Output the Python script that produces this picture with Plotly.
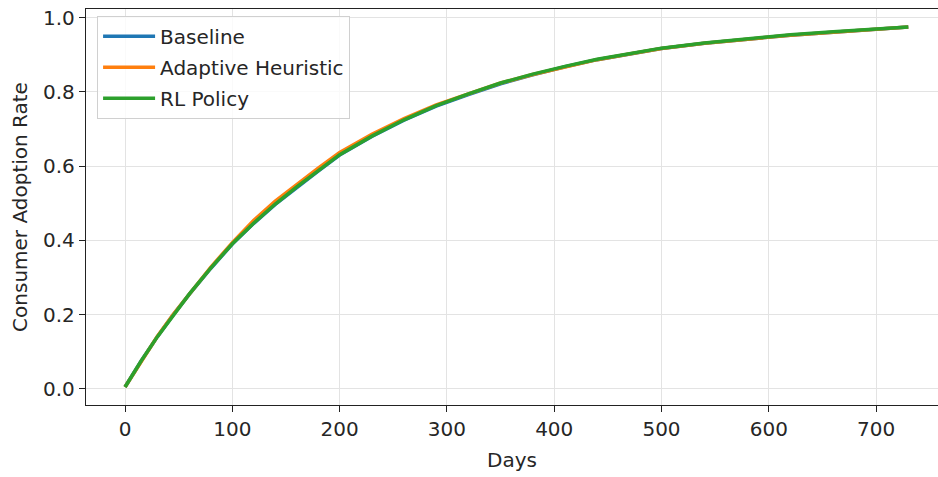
import plotly.graph_objects as go

days = [0, 15, 30, 45, 60, 80, 100, 120, 140, 160, 180, 200, 230, 260, 290,
        320, 350, 380, 410, 440, 470, 500, 540, 580, 620, 660, 700, 730]
baseline = [0.005, 0.075, 0.140, 0.200, 0.255, 0.325, 0.390, 0.446, 0.497, 0.543,
            0.587, 0.630, 0.680, 0.724, 0.762, 0.793, 0.822, 0.846, 0.868, 0.887,
            0.902, 0.917, 0.931, 0.943, 0.953, 0.961, 0.968, 0.975]
adaptive = [0.005, 0.075, 0.141, 0.201, 0.257, 0.328, 0.394, 0.454, 0.506, 0.552,
            0.595, 0.637, 0.686, 0.728, 0.765, 0.795, 0.824, 0.847, 0.868, 0.887,
            0.902, 0.917, 0.931, 0.943, 0.953, 0.961, 0.968, 0.975]
rl_policy = [0.005, 0.075, 0.140, 0.200, 0.256, 0.326, 0.391, 0.447, 0.498, 0.544,
             0.588, 0.631, 0.681, 0.725, 0.763, 0.795, 0.824, 0.848, 0.869, 0.888,
             0.903, 0.918, 0.932, 0.944, 0.954, 0.962, 0.969, 0.975]

series = [("Baseline", baseline, "#1f77b4"),
          ("Adaptive Heuristic", adaptive, "#ff7f0e"),
          ("RL Policy", rl_policy, "#2ca02c")]

x_ticks = [0, 100, 200, 300, 400, 500, 600, 700]
y_ticks = [0.0, 0.2, 0.4, 0.6, 0.8, 1.0]
y_ticktext = ["0.0", "0.2", "0.4", "0.6", "0.8", "1.0"]

fig = go.Figure()
for name, vals, color in series:
    fig.add_trace(go.Scatter(x=days, y=vals, mode="lines", name=name,
                             legendgroup=name,
                             line=dict(color=color, width=3.5)))

font = dict(family="DejaVu Sans", size=20, color="#262626")
fig.update_layout(
    width=938, height=477,
    margin=dict(l=86, r=0, t=9, b=72),
    paper_bgcolor="white", plot_bgcolor="white",
    font=font,
    showlegend=True,
    legend=dict(x=0.013, y=0.983, xanchor="left", yanchor="top",
                bgcolor="rgba(255,255,255,0.8)", bordercolor="#d0d0d0",
                borderwidth=1, font=font,
                itemwidth=52, tracegroupgap=2),
    xaxis=dict(range=[-36.4, 757.7], tickvals=x_ticks, showgrid=True,
               gridcolor="#e3e3e3", gridwidth=1, zeroline=False,
               showline=True, linecolor="#222222", linewidth=1.3, mirror=True,
               ticks="outside", ticklen=6, tickcolor="#222222", tickwidth=1.2,
               title=dict(text="Days", standoff=12, font=font)),
    yaxis=dict(range=[-0.0435, 1.0235], tickvals=y_ticks, ticktext=y_ticktext,
               showgrid=True, gridcolor="#e3e3e3", gridwidth=1, zeroline=False,
               showline=True, linecolor="#222222", linewidth=1.3, mirror=False,
               ticks="outside", ticklen=6, tickcolor="#222222", tickwidth=1.2,
               title=dict(text="Consumer Adoption Rate", standoff=10, font=font)),
)

fig.write_html("out.html")
